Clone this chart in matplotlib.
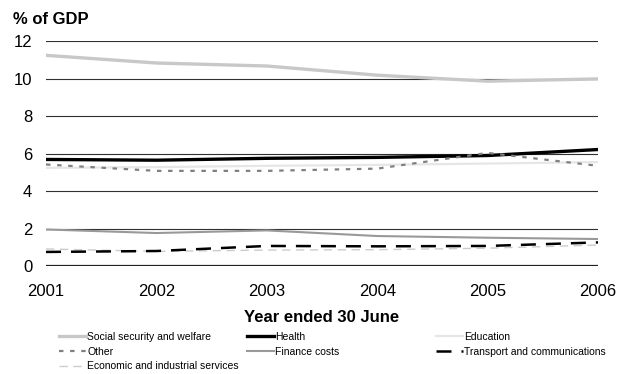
import matplotlib.pyplot as plt

plt.rcParams['font.family'] = ['Liberation Sans', 'DejaVu Sans']

years = [2001, 2002, 2003, 2004, 2005, 2006]

social = [11.25, 10.84, 10.68, 10.19, 9.87, 9.99]
health = [5.69, 5.65, 5.75, 5.8, 5.9, 6.22]
education = [5.24, 5.28, 5.35, 5.4, 5.47, 5.55]
other = [5.42, 5.08, 5.08, 5.2, 6.04, 5.35]
finance = [1.95, 1.76, 1.9, 1.6, 1.51, 1.44]
transport = [0.75, 0.8, 1.07, 1.05, 1.07, 1.26]
economic = [0.91, 0.78, 0.85, 0.87, 0.95, 1.12]

fig = plt.figure(figsize=(6.17, 3.74), dpi=100)
ax = fig.add_axes([0.0746, 0.2888, 0.8946, 0.6008])

# horizontal gridlines
for g in [2, 4, 6, 8, 10, 12]:
    ax.axhline(g, color='#303030', lw=0.8, zorder=1)
ax.axhline(0, color='#222222', lw=1.6, zorder=1)

l1, = ax.plot(years, social, color='#c8c8c8', lw=2.4, zorder=3)
l2, = ax.plot(years, health, color='black', lw=2.4, zorder=3)
l3, = ax.plot(years, education, color='#e6e6e6', lw=1.6, zorder=2)
l4, = ax.plot(years, other, color='#808080', lw=1.6, ls=(0, (2, 3)), zorder=3)
l5, = ax.plot(years, finance, color='#999999', lw=1.5, zorder=3)
l6, = ax.plot(years, transport, color='black', lw=1.8, ls=(0, (6, 4)), zorder=3)
l7, = ax.plot(years, economic, color='#cccccc', lw=1.0, ls=(0, (6, 4)), zorder=2)

ax.set_xlim(2001, 2006)
ax.set_ylim(0, 12)
ax.set_yticks([0, 2, 4, 6, 8, 10, 12])
ax.set_xticks(years)
ax.tick_params(length=0, labelsize=12)
ax.tick_params(axis='y', pad=10)
ax.tick_params(axis='x', pad=13)
for s in ax.spines.values():
    s.set_visible(False)

ax.set_xlabel('Year ended 30 June', fontsize=12, fontweight='bold', labelpad=8)
fig.text(0.021, 0.947, '% of GDP', fontsize=12, fontweight='bold', va='center')

columns = [
    ([l1, l4, l7], ['Social security and welfare', 'Other', 'Economic and industrial services'], 0.0956),
    ([l2, l5], ['Health', 'Finance costs'], 0.4003),
    ([l3, l6], ['Education', 'Transport and communications'], 0.7066),
]
for hs, labs, x0 in columns:
    fig.legend(hs, labs, loc='upper left', bbox_to_anchor=(x0, 0.112),
               fontsize=7.5, frameon=False, handlelength=2.6, handletextpad=0.1,
               labelspacing=0.45, borderpad=0, borderaxespad=0)

fig.savefig('out.png', dpi=100)
